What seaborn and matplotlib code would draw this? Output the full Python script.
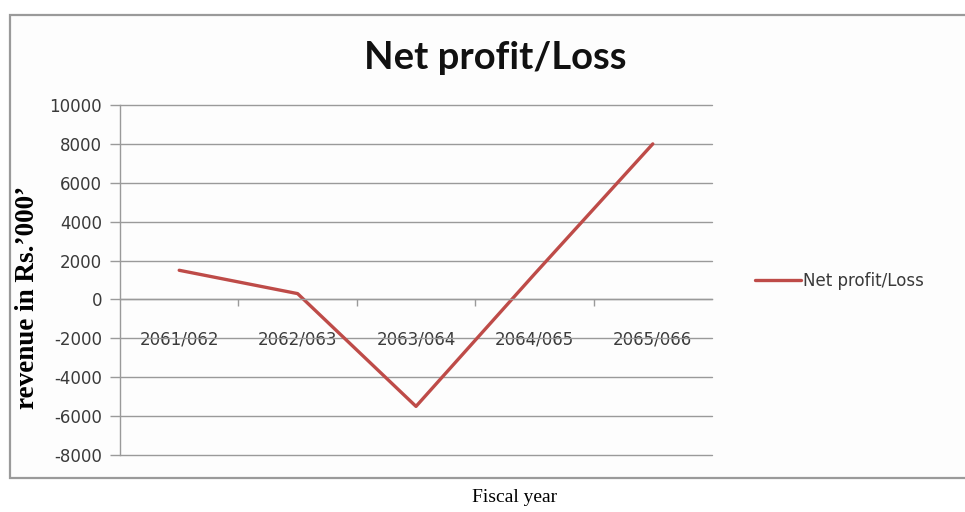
import matplotlib
matplotlib.use("Agg")
import matplotlib.pyplot as plt
from matplotlib.patches import Rectangle
from matplotlib.ticker import FixedLocator
import seaborn as sns
import pandas as pd

years = ["2061/062", "2062/063", "2063/064", "2064/065", "2065/066"]
net_profit = [1500, 300, -5500, 1300, 8000]
y_ticks = [10000, 8000, 6000, 4000, 2000, 0, -2000, -4000, -6000, -8000]
series_name = "Net profit/Loss"

df = pd.DataFrame({"year": years, "value": net_profit, "series": series_name})

sns.set_theme(style="white")
plt.rcParams["font.family"] = ["Lato", "DejaVu Sans"]
tick_font = ["DejaVu Sans"]

W, H = 965, 512
fig = plt.figure(figsize=(W / 100, H / 100), dpi=100)
fig.patch.set_facecolor("white")

# chart frame
fig.patches.append(Rectangle((10 / W, (H - 478) / H), 1.0, (478 - 15) / H,
                             transform=fig.transFigure, facecolor="#fdfdfd",
                             edgecolor="#9a9a9a", linewidth=1.6, zorder=-5))

ax = fig.add_axes([120 / W, (H - 455) / H, (712 - 120) / W, (455 - 105) / H])
ax.set_zorder(3)
ax.set_facecolor("none")

line_color = "#BE4B48"
sns.lineplot(data=df, x="year", y="value", hue="series", palette=[line_color],
             linewidth=2.4, sort=False, ax=ax)

ax.set_xlim(-0.5, len(years) - 0.5)
ax.set_ylim(-8000, 10000)
ax.set_yticks(y_ticks)
ax.set_yticklabels([str(v) for v in y_ticks])
ax.yaxis.grid(True, color="#9a9a9a", linewidth=1.0)
ax.xaxis.grid(False)
ax.set_axisbelow(True)
for gl in ax.get_ygridlines():
    gl.set_clip_on(False)

for s in ["top", "right"]:
    ax.spines[s].set_visible(False)
ax.spines["left"].set_color("#9a9a9a")
ax.spines["left"].set_linewidth(1.0)
ax.spines["bottom"].set_position(("data", 0))
ax.spines["bottom"].set_color("#9a9a9a")
ax.spines["bottom"].set_linewidth(1.0)

ax.tick_params(axis="y", which="major", left=True, length=7, width=1.0,
               color="#9a9a9a", labelsize=12, labelcolor="#3a3a3a", pad=6)
ax.tick_params(axis="x", which="major", length=0, labelsize=12,
               labelcolor="#3a3a3a", pad=22)
for lab in ax.get_xticklabels() + ax.get_yticklabels():
    lab.set_family(tick_font)
ax.xaxis.set_minor_locator(FixedLocator([0.5, 1.5, 2.5, 3.5]))
ax.tick_params(axis="x", which="minor", bottom=True, length=5, width=1.0,
               color="#9a9a9a", direction="out")

ax.set_xlabel("")
ax.set_ylabel("")

fig.text(495 / W, 1 - 58 / H, "Net profit/Loss", ha="center", va="center",
         fontsize=27.5, fontweight="bold", color="#111111")

fig.text(28 / W, 1 - 297 / H, "revenue in Rs.\u2019000\u2019", rotation=90,
         ha="center", va="center", fontsize=19.5, fontweight="bold",
         family=["Liberation Serif", "DejaVu Serif"], color="#000000")
fig.text(515 / W, 1 - 497 / H, "Fiscal year", ha="center", va="center",
         fontsize=14, family=["Liberation Serif", "DejaVu Serif"], color="#000000")

leg = ax.legend(loc="center left", bbox_to_anchor=(748 / W, 1 - 281 / H),
                bbox_transform=fig.transFigure, frameon=False,
                prop={"family": tick_font, "size": 12},
                handlelength=2.8, handletextpad=0.1, borderaxespad=0)
for t in leg.get_texts():
    t.set_color("#3a3a3a")

fig.savefig("out.png", dpi=100)
